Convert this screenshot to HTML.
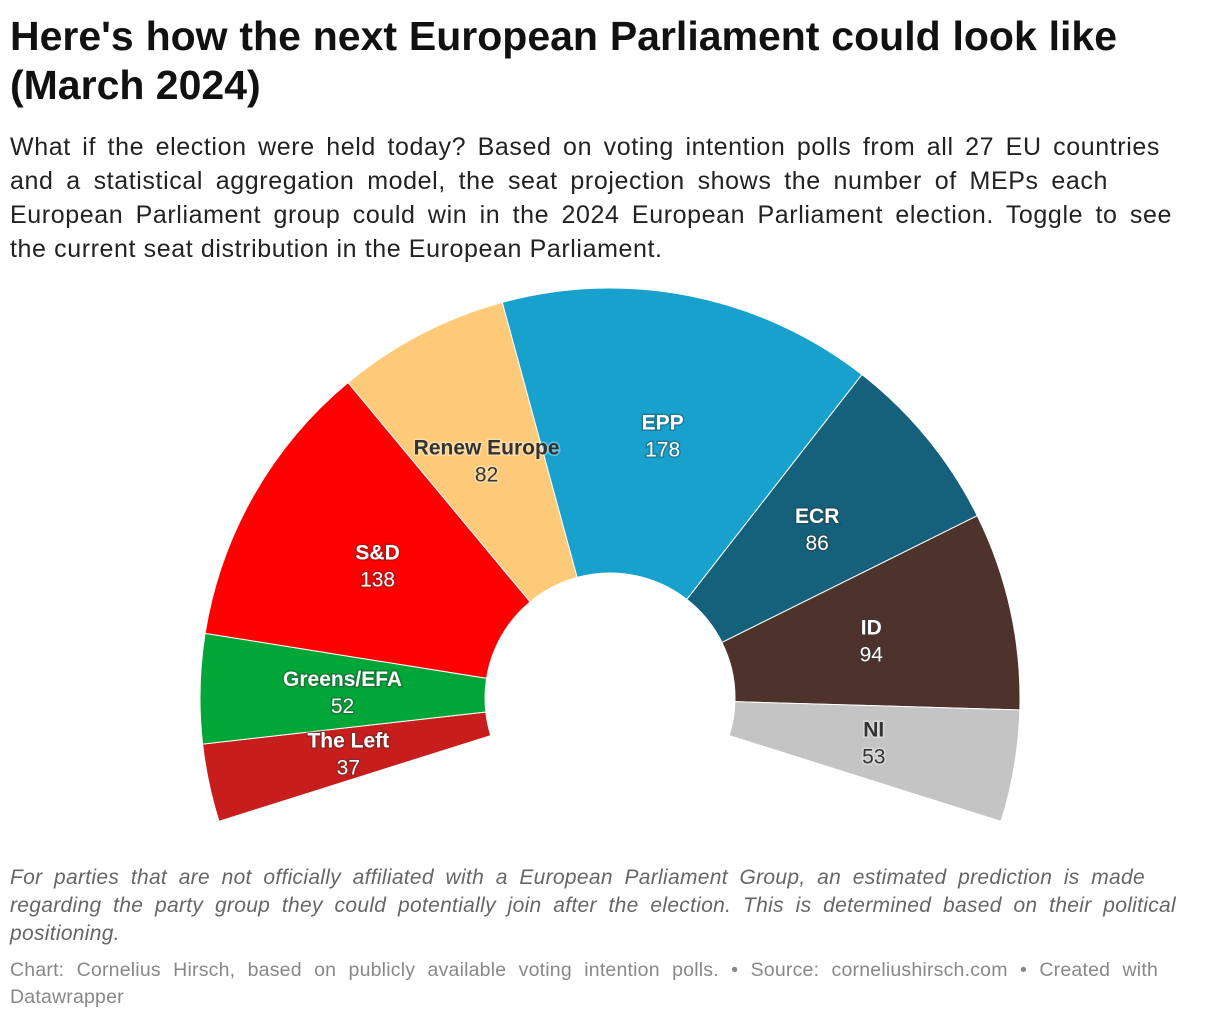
<!DOCTYPE html>
<html><head><meta charset="utf-8"><style>
body{margin:0;background:#fff;font-family:"Liberation Sans",Arial,sans-serif;}
#wrap{position:relative;width:1220px;height:1020px;}
.ln{display:block;white-space:nowrap;text-align:justify;text-align-last:justify;}
.last{text-align-last:left;}
h1{position:absolute;left:10px;top:12px;margin:0;font-size:41px;line-height:49px;font-weight:bold;color:#111;}
#sub{position:absolute;left:10px;top:130px;margin:0;font-size:25px;line-height:34px;color:#222;letter-spacing:0.6px;}
#note{position:absolute;left:10px;top:864px;font-size:21px;line-height:28px;color:#666;font-style:italic;letter-spacing:0.3px;}
#foot{position:absolute;left:10px;top:957px;font-size:19.5px;line-height:27px;color:#888;letter-spacing:0.2px;}
svg{position:absolute;left:0;top:0;}
</style></head><body><div id="wrap">
<h1><span class="ln" style="width:1107px">Here's how the next European Parliament could look like</span><span class="ln last">(March 2024)</span></h1>
<p id="sub"><span class="ln" style="width:1150px">What if the election were held today? Based on voting intention polls from all 27 EU countries</span><span class="ln" style="width:1098px">and a statistical aggregation model, the seat projection shows the number of MEPs each</span><span class="ln" style="width:1162px">European Parliament group could win in the 2024 European Parliament election. Toggle to see</span><span class="ln last">the current seat distribution in the European Parliament.</span></p>
<svg id="chart" width="1220" height="1020"></svg>
<div id="note"><span class="ln" style="width:1135px">For parties that are not officially affiliated with a European Parliament Group, an estimated prediction is made</span><span class="ln" style="width:1166px">regarding the party group they could potentially join after the election. This is determined based on their political</span><span class="ln last">positioning.</span></div>
<div id="foot"><span class="ln" style="width:1148px">Chart: Cornelius Hirsch, based on publicly available voting intention polls. • Source: corneliushirsch.com • Created with</span><span class="ln last">Datawrapper</span></div>
</div>
<script>
const groups=["The Left","Greens/EFA","S&D","Renew Europe","EPP","ECR","ID","NI"];
const seats=[37,52,138,82,178,86,94,53];
const colors=["#c71e1d","#00a637","#ff0000","#fdca7a","#18a1cd","#15607a","#4e332d","#c4c4c4"];
const darkLabel=[false,false,false,true,false,false,false,true];
const svg=document.getElementById('chart');
const NS="http://www.w3.org/2000/svg";
const cx=610,cy=698,r0=125,r1=410,startDeg=-17.5,spanDeg=215;
const total=seats.reduce((a,b)=>a+b,0);
function pt(r,deg){const a=deg*Math.PI/180;return [cx-r*Math.cos(a),cy-r*Math.sin(a)];}
let acc=0;const mids=[];
groups.forEach((g,i)=>{
  const a0=startDeg+acc/total*spanDeg; acc+=seats[i];
  const a1=startDeg+acc/total*spanDeg;
  const p1=pt(r1,a0),p2=pt(r1,a1),p3=pt(r0,a1),p4=pt(r0,a0);
  const large=(a1-a0)>180?1:0;
  const d=`M${p1}A${r1},${r1} 0 ${large} 1 ${p2}L${p3}A${r0},${r0} 0 ${large} 0 ${p4}Z`;
  const path=document.createElementNS(NS,'path');
  path.setAttribute('d',d);path.setAttribute('fill',colors[i]);path.setAttribute('stroke','#fff');path.setAttribute('stroke-width','1');
  
  
  svg.appendChild(path);
  mids.push(pt((r0+r1)/2,(a0+a1)/2));
});
groups.forEach((g,i)=>{
  const m=mids[i];
  const fill=darkLabel[i]?'#333':'#fff';
  const halo=darkLabel[i]?'#fff':'#333';
  [[g,'bold',-13],[String(seats[i]),'normal',14]].forEach(([t,w,dy],k)=>{
    const tx=document.createElementNS(NS,'text');
    tx.setAttribute('x',m[0]);tx.setAttribute('y',m[1]+dy+7);
    tx.setAttribute('text-anchor','middle');tx.setAttribute('font-size','21');tx.setAttribute('font-weight',w);
    tx.setAttribute('fill',fill);tx.setAttribute('stroke',halo);tx.setAttribute('stroke-width','3');tx.setAttribute('stroke-opacity','0.35');
    tx.setAttribute('paint-order','stroke');tx.setAttribute('font-family','Liberation Sans, Arial, sans-serif');
    tx.textContent=t;
    
    
    svg.appendChild(tx);
  });
});
</script></body></html>
